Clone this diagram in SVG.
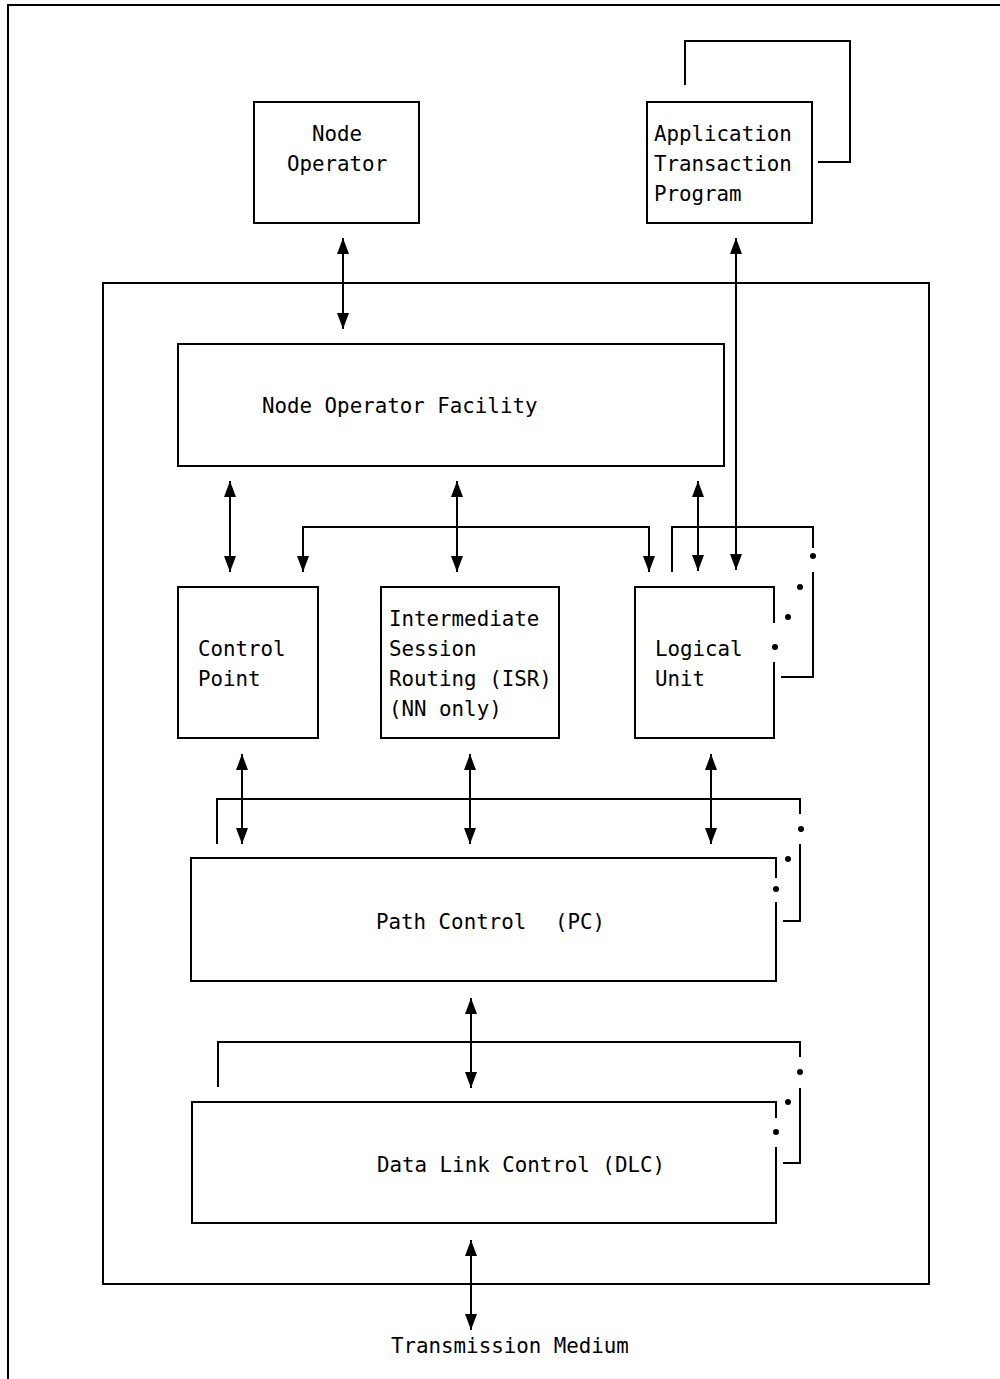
<svg xmlns="http://www.w3.org/2000/svg" width="1000" height="1379" viewBox="0 0 1000 1379">
<style>
.b{fill:none;stroke:#000;stroke-width:2}
.c{fill:none;stroke:#000;stroke-width:2}
.a{marker-start:url(#ah);marker-end:url(#ah)}
.t{font-family:"DejaVu Sans Mono","Liberation Mono",monospace;font-size:20.8px;fill:#000}
.d{fill:#000}
</style>
<defs>
<marker id="ah" viewBox="0 0 16 12" refX="16" refY="6" markerWidth="16" markerHeight="12" markerUnits="userSpaceOnUse" orient="auto-start-reverse">
<path d="M0,0 L16,6 L0,12 z" fill="#000"/>
</marker>
</defs>
<rect width="1000" height="1379" fill="#fff"/>
<path class="b" d="M8,1379 V5 H1000"/>
<rect id="system-frame" class="b" x="103" y="283" width="826" height="1001"/>

<g id="node-operator">
<rect class="b" x="254" y="102" width="165" height="121"/>
<text class="t" x="312" y="141">Node</text>
<text class="t" x="287" y="171">Operator</text>
</g>

<g id="application-tp">
<rect class="b" x="647" y="102" width="165" height="121"/>
<path class="b" d="M685,85 V41 H850 V162 H818"/>
<text class="t" x="654" y="141">Application</text>
<text class="t" x="654" y="171">Transaction</text>
<text class="t" x="654" y="201">Program</text>
</g>

<g id="node-operator-facility">
<rect class="b" x="178" y="344" width="546" height="122"/>
<text class="t" x="262" y="413">Node Operator Facility</text>
</g>

<g id="control-point">
<rect class="b" x="178" y="587" width="140" height="151"/>
<text class="t" x="198" y="656">Control</text>
<text class="t" x="198" y="686">Point</text>
</g>

<g id="isr">
<rect class="b" x="381" y="587" width="178" height="151"/>
<text class="t" x="389" y="626">Intermediate</text>
<text class="t" x="389" y="656">Session</text>
<text class="t" x="389" y="686">Routing (ISR)</text>
<text class="t" x="389" y="716">(NN only)</text>
</g>

<g id="logical-unit">
<path class="b" d="M774,623 V587 H635 V738 H774 V662"/>
<path class="b" d="M672,572 V527 H813 V548 M813,572 V677 H781"/>
<circle class="d" cx="813" cy="556" r="3"/>
<circle class="d" cx="800" cy="587" r="3"/>
<circle class="d" cx="788" cy="617" r="3"/>
<circle class="d" cx="775" cy="647" r="3"/>
<text class="t" x="655" y="656">Logical</text>
<text class="t" x="655" y="686">Unit</text>
</g>

<g id="path-control">
<path class="b" d="M776,878 V858 H191 V981 H776 V902"/>
<path class="b" d="M217,844 V799 H800 V814 M800,844 V921 H783"/>
<circle class="d" cx="801" cy="829" r="3"/>
<circle class="d" cx="788" cy="859" r="3"/>
<circle class="d" cx="776" cy="889" r="3"/>
<text class="t" x="376" y="929">Path Control<tspan x="555">(PC)</tspan></text>
</g>

<g id="data-link-control">
<path class="b" d="M776,1118 V1102 H192 V1223 H776 V1147"/>
<path class="b" d="M218,1087 V1042 H800 V1057 M800,1088 V1163 H783"/>
<circle class="d" cx="800" cy="1072" r="3"/>
<circle class="d" cx="788" cy="1102" r="3"/>
<circle class="d" cx="776" cy="1132" r="3"/>
<text class="t" x="377" y="1172">Data Link Control (DLC)</text>
</g>

<g id="transmission-medium">
<text class="t" x="391" y="1353">Transmission Medium</text>
</g>

<g id="connectors">
<line class="c a" x1="343" y1="238" x2="343" y2="329"/>
<line class="c a" x1="736" y1="238" x2="736" y2="570"/>
<line class="c a" x1="230" y1="481" x2="230" y2="572"/>
<line class="c a" x1="457" y1="481" x2="457" y2="572"/>
<line class="c a" x1="698" y1="481" x2="698" y2="571"/>
<path class="c a" d="M303,572 V527 H649 V572"/>
<line class="c a" x1="242" y1="754" x2="242" y2="844"/>
<line class="c a" x1="470" y1="754" x2="470" y2="844"/>
<line class="c a" x1="711" y1="754" x2="711" y2="844"/>
<line class="c a" x1="471" y1="998" x2="471" y2="1088"/>
<line class="c a" x1="471" y1="1240" x2="471" y2="1330"/>
</g>
</svg>
